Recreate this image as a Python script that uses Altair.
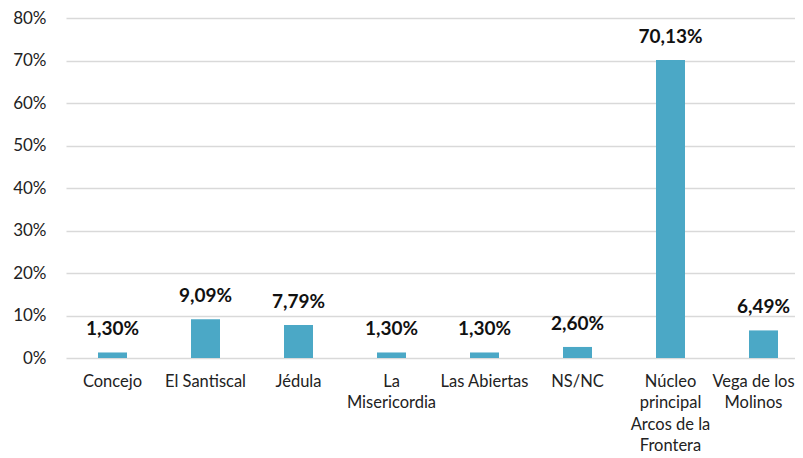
import altair as alt
import pandas as pd

categories = ["Concejo", "El Santiscal", "Jédula", "La\nMisericordia", "Las Abiertas",
              "NS/NC", "Núcleo\nprincipal\nArcos de la\nFrontera", "Vega de los\nMolinos"]
values = [1.30, 9.09, 7.79, 1.30, 1.30, 2.60, 70.13, 6.49]
y_ticks = [0, 10, 20, 30, 40, 50, 60, 70, 80]

df = pd.DataFrame({"cat": categories, "v": values})

FONT = "Lato"
x_enc = alt.X("cat:N", sort=categories, title=None,
              scale=alt.Scale(range=[0, 744], paddingInner=0, paddingOuter=0),
              axis=alt.Axis(labelAngle=0, labelExpr="split(datum.label, '\\n')",
                            labelFontSize=16.5, labelColor="#222222", labelFont=FONT,
                            labelLineHeight=21.5, labelPadding=23, labelBaseline="middle",
                            labelOffset={"condition": {"test": "indexof(datum.value, 'Vega') >= 0",
                                                       "value": -10}, "value": 0},
                            ticks=False, domain=False, labelLimit=200))
y_scale = alt.Scale(domain=[0, 80], nice=False)

bars = alt.Chart(df).mark_bar(size=29, color="#4BA8C6").encode(
    x=x_enc,
    y=alt.Y("v:Q", scale=y_scale, title=None,
            axis=alt.Axis(values=y_ticks, labelExpr="datum.value + '%'",
                          labelFontSize=17, labelColor="#222222", labelFont=FONT,
                          labelPadding=20, ticks=False, domain=False,
                          gridColor="#D9D9D9", gridWidth=1.5)),
)

labels = alt.Chart(df).mark_text(fontSize=19, fontWeight="bold", font=FONT,
                                 color="#111111", baseline="middle", dy=-23).encode(
    x=alt.X("cat:N", sort=categories),
    y=alt.Y("v:Q", scale=y_scale),
    text=alt.Text("lbl:N"),
).transform_calculate(lbl="replace(format(datum.v, '.2f'), '.', ',') + '%'")

chart = (bars + labels).properties(
    width=729, height=340,
    autosize=alt.AutoSizeParams(type="none"),
    padding={"left": 58, "top": 10, "right": 0, "bottom": 100},
).configure_view(stroke=None)

chart.save("out.html", embed_options={"renderer": "svg", "actions": False})
